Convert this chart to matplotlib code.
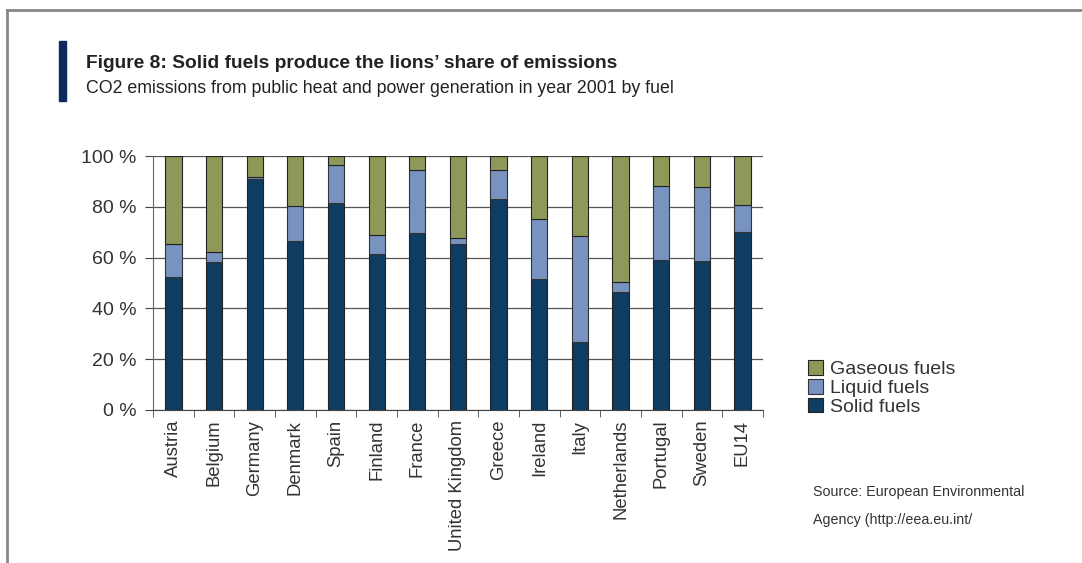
import matplotlib.pyplot as plt
import numpy as np
from matplotlib.patches import Rectangle
from matplotlib.lines import Line2D

countries = ['Austria', 'Belgium', 'Germany', 'Denmark', 'Spain', 'Finland', 'France',
             'United Kingdom', 'Greece', 'Ireland', 'Italy', 'Netherlands', 'Portugal',
             'Sweden', 'EU14']
solid = [52.2, 58.1, 90.8, 66.5, 81.4, 61.4, 69.7, 65.5, 82.9, 51.6, 26.8, 46.5, 59.2, 58.7, 70.0]
liquid = [13.0, 4.0, 0.8, 13.7, 14.9, 7.4, 24.7, 2.3, 11.5, 23.5, 41.6, 3.9, 28.9, 29.0, 10.8]
gaseous = [100 - s - l for s, l in zip(solid, liquid)]

c_solid = '#0f3d62'
c_liquid = '#7893bf'
c_gas = '#8e9858'

plt.rcParams['font.family'] = ['Liberation Sans', 'DejaVu Sans']

fig = plt.figure(figsize=(10.82, 5.63), dpi=100)
ax = fig.add_axes([0.1415, 0.2718, 0.5635, 0.4511])

x = np.arange(len(countries))
w = 0.4
ax.bar(x, solid, w, color=c_solid, edgecolor='#222222', linewidth=0.8, label='Solid fuels', zorder=3)
ax.bar(x, liquid, w, bottom=solid, color=c_liquid, edgecolor='#333333', linewidth=0.8,
       label='Liquid fuels', zorder=3)
bot2 = [s + l for s, l in zip(solid, liquid)]
ax.bar(x, gaseous, w, bottom=bot2, color=c_gas, edgecolor='#222222', linewidth=0.8,
       label='Gaseous fuels', zorder=3)

ax.set_xlim(-0.5, len(countries) - 0.5)
ax.set_ylim(0, 100)
ax.set_yticks(range(0, 101, 20))
ax.set_yticklabels([f'{v} %' for v in range(0, 101, 20)], fontsize=14, color='#333333')
ax.set_xticks(x)
ax.set_xticklabels(countries, rotation=90, fontsize=13.3, color='#333333')
ax.set_xticks(np.arange(-0.5, len(countries), 1), minor=True)
ax.tick_params(axis='x', which='major', length=0, pad=7)
ax.tick_params(axis='x', which='minor', length=5, color='#444444')
ax.tick_params(axis='y', length=6, direction='out', color='#444444', pad=6)
ax.yaxis.grid(True, color='#555555', linewidth=0.9, zorder=0)
for s in ['top', 'right']:
    ax.spines[s].set_visible(False)
ax.spines['left'].set_color('#666666')
ax.spines['bottom'].set_color('#444444')

handles, labels = ax.get_legend_handles_labels()
leg = fig.legend(handles[::-1], labels[::-1], loc='upper left', bbox_to_anchor=(0.738, 0.377),
                 frameon=False, fontsize=14, handlelength=0.75, handleheight=0.75,
                 handletextpad=0.35, labelspacing=0.05, borderpad=0)
for t in leg.get_texts():
    t.set_color('#333333')

# frame lines and title block
fig.add_artist(Line2D([0.0065, 0.0065], [0, 0.982], color='#888888', linewidth=2))
fig.add_artist(Line2D([0.0065, 1.0], [0.982, 0.982], color='#888888', linewidth=2))
fig.add_artist(Rectangle((0.0545, 0.8206), 0.0067, 0.1066, color='#0d2b5e', transform=fig.transFigure))

fig.text(0.0795, 0.888, 'Figure 8: Solid fuels produce the lions\u2019 share of emissions',
         fontsize=13.8, fontweight='bold', color='#222222', va='center')
fig.text(0.0795, 0.842, 'CO2 emissions from public heat and power generation in year 2001 by fuel',
         fontsize=12.8, color='#222222', va='center')
fig.text(0.751, 0.126, 'Source: European Environmental', fontsize=10.3,
         color='#333333', va='center')
fig.text(0.751, 0.076, 'Agency (http://eea.eu.int/', fontsize=10.3,
         color='#333333', va='center')

fig.savefig('out.png', dpi=100)
